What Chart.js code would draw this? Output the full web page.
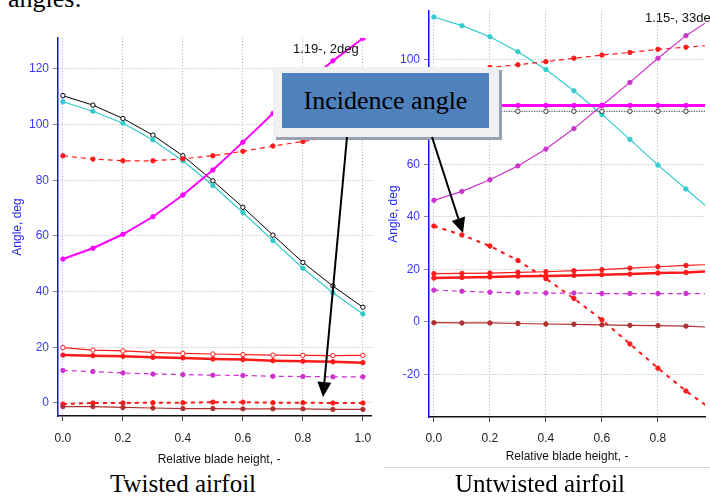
<!DOCTYPE html>
<html lang="en">
<head>
<meta charset="utf-8">
<script src="https://cdn.jsdelivr.net/npm/chart.js"></script>
<title>Twisted and untwisted airfoil angles</title>
<style>
    body { margin: 0; width: 710px; height: 496px; overflow: hidden; background: #fff; position: relative;
           font-family: "Liberation Sans", Arial, sans-serif; }
    #leftWrap { position: absolute; left: 0; top: 0; width: 372px; height: 470px; overflow: hidden; }
    #rightWrap { position: absolute; left: 375px; top: 0; width: 335px; height: 470px; }
    canvas { position: absolute; left: 0; top: 0; }
    .serif { position: absolute; font-family: "Liberation Serif", "Times New Roman", serif; color: #000;
             white-space: nowrap; line-height: 1; }
    .note { position: absolute; font-size: 13px; color: #111; white-space: nowrap; }
    #box { position: absolute; left: 273px; top: 67px; width: 226px; height: 70px; background: #f0f0f0;
           box-shadow: 3px 3px 0 #98a1b3; }
    #boxInner { position: absolute; left: 9px; top: 6px; width: 207px; height: 55px; background: #4f81bd;
                font-family: "Liberation Serif", "Times New Roman", serif; font-size: 26px; color: #000;
                text-align: center; line-height: 55px; }
    #arrows { position: absolute; left: 0; top: 0; }
</style>
</head>
<body>
    <div class="serif" style="left:8px; top:-14px; font-size:26px;">angles:</div>

    <div id="leftWrap">
        <canvas id="twisted" width="385" height="470"></canvas>
        <div class="note" style="left:293px; top:41px;">1.19-, 2deg</div>
    </div>
    <div id="rightWrap">
        <canvas id="untwisted" width="335" height="470"></canvas>
        <div class="note" style="left:270px; top:10px;">1.15-, 33deg</div>
    </div>

    <div style="position:absolute; left:383px; top:467px; width:327px; height:1px; background:#dcdcdc;"></div>
    <div class="serif" style="left:83px; top:471px; width:200px; text-align:center; font-size:25px;">Twisted airfoil</div>
    <div class="serif" style="left:440px; top:471px; width:200px; text-align:center; font-size:25px;">Untwisted airfoil</div>

    <div id="box"><div id="boxInner">Incidence angle</div></div>
    <svg id="arrows" width="710" height="496"></svg>

    <script>
        // relative blade height
        var heights = [0, 0.1, 0.2, 0.3, 0.4, 0.5, 0.6, 0.7, 0.8, 0.9, 1.0];

        // twisted airfoil, angles in deg
        var twBlack    = [110.4, 107.0, 102.2, 96.2, 88.8, 79.8, 70.3, 60.3, 50.5, 42.0, 34.4];
        var twCyan     = [108.2, 104.8, 100.5, 94.5, 87.0, 78.1, 68.4, 58.3, 48.4, 39.6, 32.0];
        var twMagenta  = [51.7, 55.6, 60.6, 66.9, 74.7, 83.7, 93.7, 104.0, 114.0, 122.9, 131.0];
        var twRedDash  = [88.8, 87.6, 87.0, 87.0, 87.7, 88.8, 90.4, 92.3, 93.9, 95.7, 97.0];
        var twRedThin  = [19.9, 19.0, 18.7, 18.2, 17.8, 17.6, 17.4, 17.2, 17.1, 17.0, 17.1];
        var twRedThick = [17.2, 17.0, 16.8, 16.4, 16.2, 15.8, 15.6, 15.2, 15.0, 14.8, 14.5];
        var twMagDash  = [11.7, 11.3, 10.8, 10.4, 10.2, 10.0, 9.9, 9.6, 9.5, 9.4, 9.4];
        var twIncid    = [-0.4, 0.0, 0.0, 0.1, 0.1, 0.3, 0.3, 0.1, 0.1, 0.0, 0.0];
        var twDarkRed  = [-1.3, -1.3, -1.6, -1.8, -2.0, -2.0, -2.1, -2.1, -2.1, -2.3, -2.3];

        // untwisted airfoil, angles in deg
        var utCyan     = [116.1, 112.8, 108.6, 102.9, 96.1, 88.0, 79.0, 69.5, 59.7, 50.6, 41.5];
        var utRedDash  = [94.0, 95.5, 96.9, 97.9, 99.1, 100.4, 101.6, 102.6, 103.8, 104.6, 105.4];
        var utMagFlat  = [82.4, 82.4, 82.4, 82.4, 82.4, 82.4, 82.4, 82.4, 82.4, 82.4, 82.4];
        var utBlack    = [80.2, 80.2, 80.2, 80.2, 80.2, 80.2, 80.2, 80.2, 80.2, 80.2, 80.2];
        var utMagRise  = [46.3, 49.7, 54.1, 59.4, 65.8, 73.6, 82.4, 91.2, 100.4, 109.0, 116.0];
        var utIncid    = [36.5, 33.1, 28.9, 23.4, 16.5, 8.9, 0.8, -8.4, -17.6, -26.3, -34.0];
        var utRedThin  = [18.4, 18.5, 18.6, 18.9, 19.1, 19.5, 19.9, 20.5, 21.0, 21.5, 21.9];
        var utRedThick = [16.7, 16.9, 17.1, 17.4, 17.5, 17.7, 18.0, 18.2, 18.6, 18.8, 19.4];
        var utMagDash  = [12.1, 11.7, 11.3, 11.1, 11.0, 11.0, 10.8, 10.8, 10.8, 10.8, 10.7];
        var utDarkRed  = [-0.3, -0.4, -0.4, -0.6, -0.8, -0.9, -1.1, -1.3, -1.4, -1.6, -2.1];

        var RED = "#ff1a1a", DARKRED = "#b03030", MAG = "#ff00ff", PURPLE = "#cc33cc", CYAN = "#33cccc";

        function series(values, color, width, dash, pointFill) {
            return {
                data: heights.map(function(h, i) { return {x: h, y: values[i]}; }),
                borderColor: color,
                borderWidth: width,
                borderDash: dash || [],
                pointRadius: 2.2,
                pointBorderWidth: 1,
                pointBorderColor: color,
                pointBackgroundColor: pointFill || color,
                tension: 0
            };
        }

        function makeChart(id, datasets, o) {
            return new Chart(document.getElementById(id), {
                type: "line",
                data: { datasets: datasets },
                options: {
                    responsive: false,
                    animation: false,
                    layout: { padding: { top: o.top, left: 0, right: 0, bottom: 0 } },
                    plugins: { legend: { display: false }, tooltip: { enabled: false } },
                    scales: {
                        x: {
                            type: "linear", min: o.xmin, max: o.xmax,
                            ticks: { stepSize: 0.2, includeBounds: false, color: "#222", font: { size: 12 },
                                     padding: o.xpad, maxRotation: 0,
                                     callback: function(v) { return v.toFixed(1); } },
                            grid: { color: "#b4b4b4", tickLength: 5, tickColor: "#444", tickBorderDash: [] },
                            border: { color: "#111", width: 1.5, dash: [1, 2] },
                            title: { display: true, text: "Relative blade height, -", color: "#111",
                                     font: { size: 12 }, padding: { top: 0, bottom: o.xtitlePad } },
                            afterFit: function(s) { s.height = o.xh; }
                        },
                        y: {
                            min: o.ymin, max: o.ymax,
                            ticks: { stepSize: 20, includeBounds: false, color: "#3a3aff", font: { size: 12 }, padding: 4 },
                            grid: { color: "#b4b4b4", tickLength: 5, tickColor: "#888", tickBorderDash: [] },
                            border: { color: "#1010ff", width: 1.5, dash: [1, 2] },
                            title: { display: true, text: "Angle, deg", color: "#2a2aff",
                                     font: { size: 12 }, padding: { top: o.ytitlePad, bottom: 0 } },
                            afterFit: function(s) { s.width = o.yw; }
                        }
                    }
                }
            });
        }

        makeChart("twisted", [
            series(twDarkRed, DARKRED, 1.2),
            series(twIncid, RED, 2, [4, 4]),
            series(twMagDash, PURPLE, 1.2, [5, 4]),
            series(twRedThick, RED, 2.5),
            series(twRedThin, RED, 1.2, [], "#fff"),
            series(twRedDash, RED, 1.2, [5, 4]),
            series(twMagenta, MAG, 2),
            series(twCyan, CYAN, 1.2),
            series(twBlack, "#000", 1, [], "#fff")
        ], { top: 38, xmin: -0.0164, xmax: 1.057, xpad: 10, xh: 54, xtitlePad: 3.4,
             ymin: -4.67, ymax: 131.1, yw: 58, ytitlePad: 10.5 });

        makeChart("untwisted", [
            series(utDarkRed, DARKRED, 1.2),
            series(utMagDash, PURPLE, 1.2, [5, 4]),
            series(utRedThick, RED, 2.5),
            series(utRedThin, RED, 1.2),
            series(utIncid, RED, 2, [4, 5]),
            series(utBlack, "#333", 1, [1, 1.5], "#fff"),
            series(utMagFlat, MAG, 3),
            series(utMagRise, PURPLE, 1.2),
            series(utRedDash, RED, 1.2, [5, 4]),
            series(utCyan, CYAN, 1.2)
        ], { top: 7, xmin: -0.0175, xmax: 0.968, xpad: 9, xh: 53, xtitlePad: 6.4,
             ymin: -36.2, ymax: 118.3, yw: 54, ytitlePad: 11.9 });

        // arrows from the callout box
        function arrow(svg, x1, y1, x2, y2) {
            var dx = x2 - x1, dy = y2 - y1, len = Math.sqrt(dx * dx + dy * dy);
            var ux = dx / len, uy = dy / len, nx = -uy, ny = ux;
            var bx = x2 - 15 * ux, by = y2 - 15 * uy;
            var ns = "http://www.w3.org/2000/svg";
            var l = document.createElementNS(ns, "line");
            l.setAttribute("x1", x1); l.setAttribute("y1", y1);
            l.setAttribute("x2", bx); l.setAttribute("y2", by);
            l.setAttribute("stroke", "#000"); l.setAttribute("stroke-width", 2);
            svg.appendChild(l);
            var p = document.createElementNS(ns, "polygon");
            p.setAttribute("points", x2 + "," + y2 + " " + (bx + 7 * nx) + "," + (by + 7 * ny) + " " + (bx - 7 * nx) + "," + (by - 7 * ny));
            p.setAttribute("fill", "#000");
            svg.appendChild(p);
        }
        var svg = document.getElementById("arrows");
        arrow(svg, 347, 137, 323, 397);
        arrow(svg, 432, 137, 463, 233);
    </script>
</body>
</html>
